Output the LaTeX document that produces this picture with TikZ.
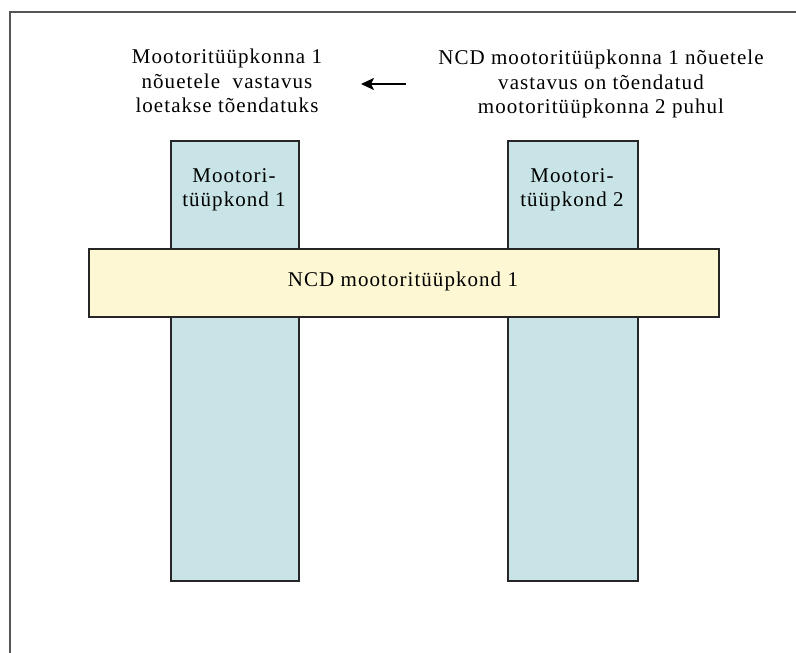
\documentclass[tikz,border=0pt]{standalone}
\usepackage{fontspec}
\setmainfont{Liberation Serif}[LetterSpace=5]
\usetikzlibrary{arrows.meta}
\definecolor{boxblue}{HTML}{C9E4E6}
\definecolor{bandyellow}{HTML}{FDF7D3}
\definecolor{framegray}{HTML}{555555}
\tikzset{
  bluebox/.style={draw=black!85, line width=1.5pt, fill=boxblue},
  bandbox/.style={draw=black!85, line width=1.5pt, fill=bandyellow},
  lbl/.style={font=\fontsize{21}{24.5}\selectfont, align=center, inner sep=0pt},
}
\begin{document}
\begin{tikzpicture}[x=1pt,y=-1pt]
\useasboundingbox (0,0) rectangle (796,653);
\draw[framegray, line width=1.4pt] (10,653) -- (10,12) -- (796,12);
% blue columns
\node[bluebox, minimum width=128pt, minimum height=440pt, anchor=north west, inner sep=0pt] (b1) at (170,140) {};
\node[bluebox, minimum width=130pt, minimum height=440pt, anchor=north west, inner sep=0pt] (b2) at (507,140) {};
% yellow band
\node[bandbox, minimum width=630pt, minimum height=68pt, anchor=north west, inner sep=0pt] (band) at (88,248) {};
\node[lbl] (bandtxt) at (403,281) {NCD mootoritüüpkond 1};
% box labels
\node[lbl] (t1) at (234,190) {Mootori-\\tüüpkond 1};
\node[lbl] (t2) at (572,190) {Mootori-\\tüüpkond 2};
% top texts
\node[lbl] (left) at (227,81) {Mootoritüüpkonna 1\\nõuetele \ vastavus\\loetakse tõendatuks};
\node[lbl] (right) at (601,84) {NCD mootoritüüpkonna 1 nõuetele\\vastavus on tõendatud\\mootoritüüpkonna 2 puhul};
\coordinate (as) at (406,84);
\coordinate (ae) at (361,84);
\draw[line width=2.2pt, -{Stealth[length=13pt,width=12pt,inset=3pt]}] (as) -- (ae);
\end{tikzpicture}
\end{document}
